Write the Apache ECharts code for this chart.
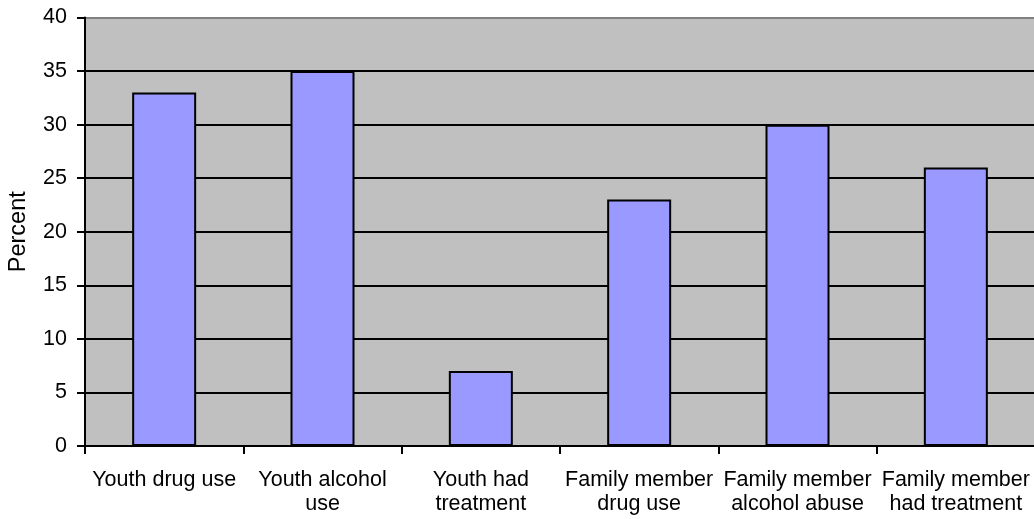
<!DOCTYPE html>
<html>
<head>
<meta charset="utf-8">
<script src="https://cdn.jsdelivr.net/npm/echarts@6/dist/echarts.min.js"></script>
<style>
  html, body { margin: 0; padding: 0; background: #fff; }
  #chart { width: 1034px; height: 519px; }
</style>
</head>
<body>
<div id="chart"></div>
<script>
// Categories (line breaks as shown under the axis)
const categories = [
  'Youth drug use',
  'Youth alcohol\nuse',
  'Youth had\ntreatment',
  'Family member\ndrug use',
  'Family member\nalcohol abuse',
  'Family member\nhad treatment'
];
// Percent of respondents for each category
const percentValues = [33, 35, 7, 23, 30, 26];
// Value axis range
const yMin = 0;
const yMax = 40;
const yStep = 5;

const font = 'Liberation Sans, Arial, sans-serif';
const nLines = (yMax - yMin) / yStep + 1;
const gridColors = [];
for (let i = 0; i < nLines; i++) gridColors.push(i === nLines - 1 ? '#808080' : '#000000');

const chart = echarts.init(document.getElementById('chart'), null, { renderer: 'canvas' });
chart.setOption({
  animation: false,
  backgroundColor: '#ffffff',
  grid: {
    left: 85, top: 17.5, right: -1, bottom: 73,
    outerBoundsMode: 'none',
    containLabel: false,
    show: true,
    backgroundColor: '#c0c0c0',
    borderColor: '#808080',
    borderWidth: 0
  },
  xAxis: {
    type: 'category',
    data: categories,
    boundaryGap: true,
    axisLine: { show: true, lineStyle: { color: '#000', width: 2 } },
    axisTick: { show: true, length: 8, inside: false, alignWithLabel: false, lineStyle: { color: '#000', width: 2 } },
    axisLabel: {
      interval: 0, margin: 22, color: '#000',
      fontFamily: font, fontSize: 21.5, lineHeight: 24, align: 'center',
      hideOverlap: false
    },
    splitLine: { show: false }
  },
  yAxis: {
    type: 'value',
    min: yMin, max: yMax, interval: yStep,
    name: 'Percent',
    nameLocation: 'middle',
    nameGap: 54,
    nameRotate: 90,
    nameTextStyle: { color: '#000', fontFamily: font, fontSize: 23.5 },
    axisLine: { show: true, lineStyle: { color: '#000', width: 2 } },
    axisTick: { show: true, length: 8, inside: false, lineStyle: { color: '#000', width: 2 } },
    axisLabel: { margin: 18, color: '#000', fontFamily: font, fontSize: 21.5 },
    splitLine: { show: true, lineStyle: { color: gridColors, width: 2 } }
  },
  series: [{
    type: 'bar',
    data: percentValues,
    barWidth: 64,
    itemStyle: { color: '#9999ff', borderColor: '#000', borderWidth: 2 },
    label: { show: false }
  }]
});
</script>
</body>
</html>
